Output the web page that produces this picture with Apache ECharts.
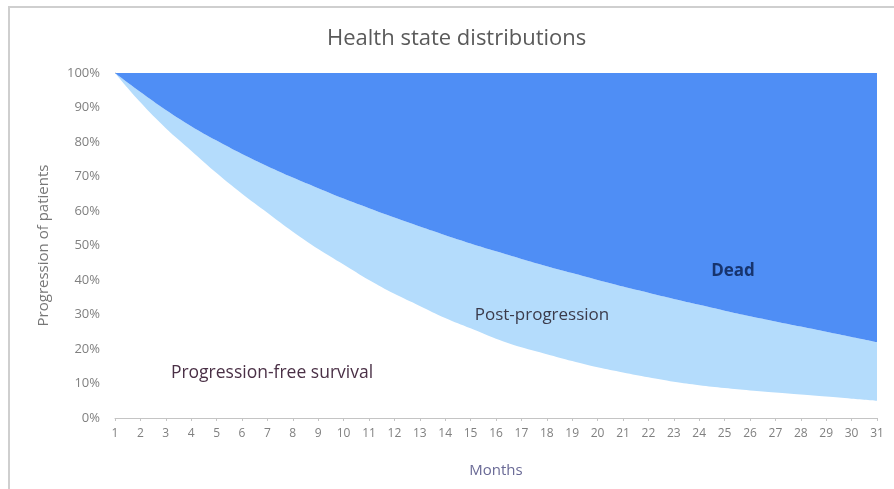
<!DOCTYPE html>
<html>
<head>
<meta charset="utf-8">
<title>Health state distributions</title>
<script src="https://cdn.jsdelivr.net/npm/echarts@6/dist/echarts.min.js"></script>
<style>
  html, body { margin: 0; padding: 0; background: #fff; }
  #main { width: 894px; height: 489px; }
</style>
</head>
<body>
<div id="main"></div>
<script>
// months on the x axis
const months = [];
for (let m = 1; m <= 31; m++) months.push(String(m));

// share alive (top of light band) and progression-free (bottom of light band), in %
const overallSurvival = [100, 94.5, 89.3, 84.6, 80.4, 76.5, 73, 69.7, 66.6, 63.6, 60.8, 58.1, 55.5, 53, 50.6, 48.3,
  46.1, 44, 42, 40, 38.1, 36.3, 34.5, 32.8, 31.1, 29.5, 28, 26.5, 25, 23.5, 22];
const progressionFree = [100, 91.5, 84, 77.5, 71, 65, 59.5, 54, 49, 44.5, 40, 36, 32.5, 29, 26, 23,
  20.5, 18.5, 16.5, 14.7, 13.2, 11.8, 10.5, 9.5, 8.7, 8, 7.4, 6.8, 6.2, 5.6, 5];

const yTicks = [0, 10, 20, 30, 40, 50, 60, 70, 80, 90, 100];

// stacked bands built from the two curves
const postProgression = overallSurvival.map((v, i) => +(v - progressionFree[i]).toFixed(2));
const dead = overallSurvival.map(v => +(100 - v).toFixed(2));

const chart = echarts.init(document.getElementById("main"));

const band = (name, data, color) => ({
  name: name,
  type: "line",
  stack: "states",
  data: data,
  smooth: 0.4,
  showSymbol: false,
  symbol: "none",
  lineStyle: { width: 0 },
  areaStyle: { color: color, opacity: 1 },
  silent: true,
});

const font = "Open Sans";

const option = {
  animation: false,
  backgroundColor: "#ffffff",
  title: {
    text: "Health state distributions",
    left: 322,
    top: 23,
    textStyle: { fontFamily: font, fontSize: 22, fontWeight: "normal", color: "#5a5a5a" },
  },
  grid: { left: 115, right: 17, top: 73, bottom: 71 },
  xAxis: {
    type: "category",
    data: months,
    boundaryGap: false,
    name: "Months",
    nameLocation: "middle",
    nameGap: 45,
    nameTextStyle: { fontFamily: font, fontSize: 15, color: "#6a6a96" },
    axisLine: { lineStyle: { color: "#c4c4c4", width: 1 } },
    axisTick: { show: true, length: 3, alignWithLabel: true, lineStyle: { color: "#c4c4c4" } },
    axisLabel: { margin: 10, fontFamily: font, fontSize: 12, color: "#808080" },
    splitLine: { show: false },
  },
  yAxis: {
    type: "value",
    min: yTicks[0],
    max: yTicks[yTicks.length - 1],
    interval: 10,
    name: "Progression of patients",
    nameLocation: "middle",
    nameGap: 64,
    nameTextStyle: { fontFamily: font, fontSize: 15, color: "#777777" },
    axisLine: { show: true, lineStyle: { color: "#c4c4c4", width: 1 } },
    axisTick: { show: false },
    axisLabel: { margin: 15, fontFamily: font, fontSize: 13, color: "#808080", formatter: "{value}%" },
    splitLine: { show: false },
  },
  series: [
    band("Progression-free survival", progressionFree, "#ffffff"),
    band("Post-progression", postProgression, "#b4dcfc"),
    band("Dead", dead, "#4f8ef5"),
  ],
  graphic: [
    {
      type: "rect",
      shape: { x: 9, y: 7, width: 900, height: 500 },
      style: { fill: "none", stroke: "#cfcfcf", lineWidth: 2 },
      silent: true,
    },
    {
      type: "text",
      x: 733, y: 271,
      style: { text: "Dead", font: "bold 17px 'Open Sans'", fill: "#17346e", align: "center", verticalAlign: "middle" },
      z: 10,
    },
    {
      type: "text",
      x: 542, y: 315,
      style: { text: "Post-progression", font: "17px 'Open Sans'", fill: "#3b3b4b", align: "center", verticalAlign: "middle" },
      z: 10,
    },
    {
      type: "text",
      x: 272, y: 373,
      style: { text: "Progression-free survival", font: "17.5px 'Open Sans'", fill: "#4a3046", align: "center", verticalAlign: "middle" },
      z: 10,
    },
  ],
};

chart.setOption(option);
</script>
</body>
</html>
